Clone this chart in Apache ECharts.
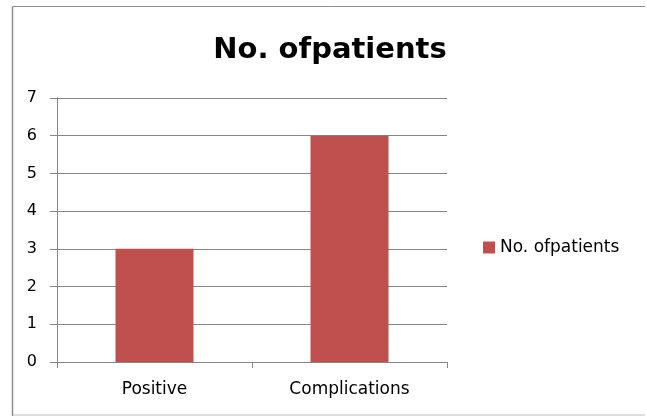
<!DOCTYPE html>
<html>
<head>
<meta charset="utf-8">
<script src="https://cdn.jsdelivr.net/npm/echarts@6/dist/echarts.min.js"></script>
<style>
html,body{margin:0;padding:0;background:#fff;}
#chart{width:647px;height:416px;}
</style>
</head>
<body>
<div id="chart"></div>
<script>
var titleText = "No. ofpatients";
var seriesName = "No. ofpatients";
var categories = ["Positive", "Complications"];
var values = [3, 6];
var yMin = 0, yMax = 7, yStep = 1;

var chart = echarts.init(document.getElementById('chart'), null, {renderer: 'canvas'});
var fontFam = "DejaVu Sans";
chart.setOption({
  animation: false,
  backgroundColor: '#fff',
  title: {
    text: titleText,
    left: 325, textAlign: 'center',
    top: 31,
    textStyle: {fontFamily: fontFam, fontWeight: 'bold', fontSize: 29, color: '#000'}
  },
  legend: {
    data: [seriesName],
    left: 483, top: 239,
    padding: 0,
    orient: 'vertical',
    icon: 'rect', itemWidth: 12, itemHeight: 12, itemGap: 5,
    textStyle: {fontFamily: fontFam, fontSize: 17, color: '#000', padding: [0,0,0,0]}
  },
  grid: {left: 57, right: 200, top: 98, bottom: 54, containLabel: false},
  xAxis: {
    type: 'category',
    data: categories,
    axisLine: {lineStyle: {color: '#868686', width: 1}},
    axisTick: {show: true, alignWithLabel: false, length: 6, lineStyle: {color: '#868686'}},
    axisLabel: {fontFamily: fontFam, fontSize: 17, color: '#000', margin: 19},
    splitLine: {show: false}
  },
  yAxis: {
    type: 'value',
    min: yMin, max: yMax, interval: yStep,
    axisLine: {show: true, lineStyle: {color: '#868686', width: 1}},
    axisTick: {show: true, length: 7, lineStyle: {color: '#868686'}},
    axisLabel: {fontFamily: fontFam, fontSize: 16, color: '#000', margin: 20},
    splitLine: {show: true, lineStyle: {color: '#868686', width: 1}}
  },
  series: [{
    name: seriesName,
    type: 'bar',
    data: values,
    barWidth: '40%',
    itemStyle: {color: '#C0504D'}
  }],
  graphic: [
    {type: 'line', shape: {x1: 12.5, y1: 6.5, x2: 645, y2: 6.5}, style: {stroke: '#8c8c8c', lineWidth: 1}, silent: true},
    {type: 'line', shape: {x1: 12.5, y1: 6.5, x2: 12.5, y2: 416}, style: {stroke: '#8c8c8c', lineWidth: 1.5}, silent: true},
    {type: 'line', shape: {x1: 12.5, y1: 415, x2: 645, y2: 415}, style: {stroke: '#bdbdbd', lineWidth: 1}, silent: true}
  ]
});
</script>
</body>
</html>
